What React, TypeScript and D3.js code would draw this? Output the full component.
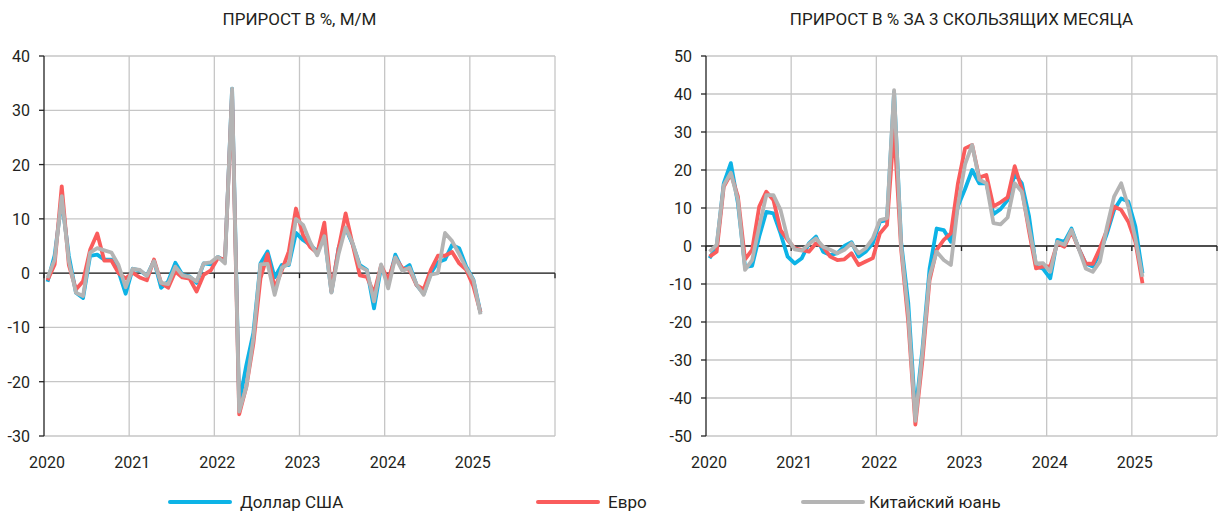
import React from "react";
import * as d3 from "d3";

const YEARS = ["2020", "2021", "2022", "2023", "2024", "2025"];
const SERIES_NAMES = ["Доллар США", "Евро", "Китайский юань"];
const COLORS = ["#0DB3E6", "#FA5C5C", "#B4B4B4"];

const TITLE_LEFT = "ПРИРОСТ В %, М/М";
const TITLE_RIGHT = "ПРИРОСТ В % ЗА 3 СКОЛЬЗЯЩИХ МЕСЯЦА";

// Monthly, Jan 2020 .. Feb 2025
const usdMoM = [-1.6, 3.3, 13.5, 3.2, -3.6, -4.6, 3.2, 3.4, 2.5, 2.5, 0.3, -3.8,
  0.8, 0.5, -0.5, 2.3, -2.7, -1.5, 1.9, -0.3, -0.6, -1.8, 1.8, 1.6,
  3.0, 2.2, 34.0, -24.0, -17.0, -11.0, 1.8, 4.0, -0.8, 1.5, 1.5, 7.4,
  6.1, 5.2, 4.0, 7.1, -3.5, 4.6, 8.3, 5.3, 1.5, 0.6, -6.5, 1.2,
  -1.9, 3.4, 0.6, 1.5, -2.2, -3.8, 0.0, 2.0, 2.5, 5.2, 4.6, 1.2, -1.2, -7.3];
const eurMoM = [-1.3, 1.6, 16.0, 1.5, -3.0, -1.5, 4.3, 7.3, 2.3, 2.3, 0.0, -1.0,
  0.1, -0.8, -1.3, 2.5, -1.8, -2.7, 0.3, -0.8, -1.0, -3.4, -0.3, 0.5,
  2.8, 2.5, 33.0, -26.0, -21.0, -13.0, -1.0, 3.5, -2.8, 0.5, 4.0, 11.9,
  7.0, 4.8, 3.7, 9.3, -3.3, 4.5, 11.0, 5.2, -0.4, -0.7, -3.7, 1.4,
  -1.2, 2.8, 0.9, 0.6, -2.2, -3.0, 0.6, 3.2, 3.2, 3.9, 1.8, 0.6, -2.4, -7.2];
const cnyMoM = [-0.9, 2.5, 14.2, 2.2, -3.6, -4.2, 3.8, 4.6, 4.2, 3.8, 1.5, -2.6,
  0.8, 0.6, -0.5, 2.2, -1.8, -2.0, 1.2, -0.4, -0.7, -1.5, 1.8, 2.0,
  3.0, 1.8, 34.0, -25.5, -21.0, -12.0, 1.6, 1.7, -4.0, 1.0, 1.7, 10.0,
  8.9, 5.7, 3.3, 6.8, -3.6, 3.5, 8.4, 5.5, 1.2, 0.5, -5.2, 1.6,
  -2.8, 2.9, 0.4, 1.0, -2.1, -4.0, -0.3, 0.0, 7.4, 5.9, 3.5, 0.9, -1.3, -7.6];

const usd3M = [-3.2, -0.2, 16.5, 21.8, 11.2, -5.5, -5.2, 2.5, 9.0, 8.6, 3.3, -2.8,
  -4.6, -3.2, 0.7, 2.5, -1.5, -2.4, -1.9, 0.0, 1.0, -2.8, -1.5, 0.7,
  6.4, 6.8, 40.5, 1.0, -15.0, -44.0, -27.0, -6.0, 4.6, 4.2, 1.1, 10.5,
  15.0, 20.0, 16.5, 16.5, 8.4, 9.7, 12.1, 19.0, 16.5, 8.0, -5.4, -6.0,
  -8.5, 1.6, 1.1, 4.6, -0.6, -4.6, -5.4, -1.9, 3.3, 9.5, 12.5, 11.7, 5.1, -7.2];
const eur3M = [-2.8, -1.5, 15.6, 19.0, 13.0, -3.5, -1.0, 10.4, 14.3, 12.1, 4.2, 1.6,
  -0.6, -1.0, -1.5, 0.7, -0.2, -2.8, -3.7, -3.5, -1.9, -5.0, -4.1, -3.2,
  3.3, 5.5, 31.0, -1.0, -20.0, -47.0, -30.0, -9.0, -1.0, 1.6, 3.3, 16.5,
  25.7, 26.6, 18.0, 18.7, 10.4, 11.5, 12.8, 21.0, 15.0, 4.0, -5.9, -5.4,
  -5.4, 0.7, -0.2, 3.8, -0.6, -4.6, -4.7, -0.6, 4.2, 10.4, 9.5, 6.4, 1.1, -9.8];
const cny3M = [-1.5, 0.3, 16.0, 19.3, 12.1, -6.3, -3.7, 5.1, 13.4, 13.4, 9.5, 2.0,
  -0.9, -1.2, 0.5, 2.0, -0.2, -1.0, -1.9, -1.0, 0.7, -1.9, -0.6, 2.0,
  6.8, 7.3, 41.0, 0.0, -18.0, -46.0, -28.0, -8.0, -1.5, -3.7, -5.0, 10.8,
  21.5, 26.6, 17.5, 16.5, 6.0, 5.7, 7.5, 16.5, 14.3, 5.0, -4.6, -4.5,
  -6.8, 1.1, 0.3, 4.2, -0.6, -5.9, -6.8, -4.1, 5.1, 13.0, 16.5, 10.4, 2.0, -8.1];

const LEFT_TICKS = [-30, -20, -10, 0, 10, 20, 30, 40];
const RIGHT_TICKS = [-50, -40, -30, -20, -10, 0, 10, 20, 30, 40, 50];

const FONT = "Roboto, 'Open Sans', sans-serif";
const TEXT_COLOR = "#231F20";
const GRID = "#C6C6C6";

type PanelProps = {
  x0: number;
  x1: number;
  y0: number;
  y1: number;
  domain: [number, number];
  ticks: number[];
  series: number[][];
  title: string;
};

function Panel({ x0, x1, y0, y1, domain, ticks, series, title }: PanelProps) {
  // x axis spans Jan 2020 .. Jan 2026 (72 months); points sit mid-month
  const months = YEARS.length * 12;
  const x = d3.scaleLinear().domain([0, months]).range([x0, x1]);
  const y = d3.scaleLinear().domain(domain).range([y1, y0]);
  const line = d3
    .line<number>()
    .x((_, i) => x(i + 0.5))
    .y((d) => y(d));
  const yearBounds = d3.range(0, months + 1, 12);
  return (
    <g>
      <text
        x={(x0 + x1) / 2}
        y={25}
        textAnchor="middle"
        fontFamily={FONT}
        fontSize={17}
        fill={TEXT_COLOR}
      >
        {title}
      </text>
      {ticks.map((t) => (
        <line key={"h" + t} x1={x0} x2={x1} y1={y(t)} y2={y(t)} stroke={GRID} strokeWidth={1.3} />
      ))}
      {yearBounds.slice(1).map((m) => (
        <line key={"v" + m} x1={x(m)} x2={x(m)} y1={y0} y2={y1} stroke={GRID} strokeWidth={1.3} />
      ))}
      <line x1={x0} x2={x1} y1={y(0)} y2={y(0)} stroke="#222" strokeWidth={1.3} />
      {yearBounds.map((m) => (
        <line key={"xt" + m} x1={x(m)} x2={x(m)} y1={y(0)} y2={y(0) + 5} stroke="#222" strokeWidth={1.3} />
      ))}
      <line x1={x0} x2={x0} y1={y0} y2={y1} stroke="#222" strokeWidth={1.3} />
      {ticks.map((t) => (
        <line key={"yt" + t} x1={x0 - 5} x2={x0} y1={y(t)} y2={y(t)} stroke="#222" strokeWidth={1.3} />
      ))}
      {ticks.map((t) => (
        <text
          key={"yl" + t}
          x={x0 - 14}
          y={y(t) + 6}
          textAnchor="end"
          fontFamily={FONT}
          fontSize={16}
          fill={TEXT_COLOR}
        >
          {t}
        </text>
      ))}
      {YEARS.map((yr, k) => (
        <text
          key={"xl" + yr}
          x={x(k * 12) + 3}
          y={y1 + 32}
          textAnchor="middle"
          fontFamily={FONT}
          fontSize={16}
          fill={TEXT_COLOR}
        >
          {yr}
        </text>
      ))}
      {series.map((s, k) => (
        <path
          key={"s" + k}
          d={line(s) || ""}
          fill="none"
          stroke={COLORS[k]}
          strokeWidth={3.8}
          strokeLinejoin="round"
          strokeLinecap="butt"
        />
      ))}
    </g>
  );
}

export default function App() {
  const legendX = [170, 538, 803];
  return (
    <svg
      width={1219}
      height={515}
      style={{ position: "absolute", left: 0, top: 0, background: "#fff" }}
    >
      <Panel
        x0={44}
        x1={555}
        y0={56}
        y1={436}
        domain={[-30, 40]}
        ticks={LEFT_TICKS}
        series={[usdMoM, eurMoM, cnyMoM]}
        title={TITLE_LEFT}
      />
      <Panel
        x0={706}
        x1={1217}
        y0={56}
        y1={436}
        domain={[-50, 50]}
        ticks={RIGHT_TICKS}
        series={[usd3M, eur3M, cny3M]}
        title={TITLE_RIGHT}
      />
      {SERIES_NAMES.map((name, k) => (
        <g key={name}>
          <line
            x1={legendX[k]}
            x2={legendX[k] + 60}
            y1={502}
            y2={502}
            stroke={COLORS[k]}
            strokeWidth={4}
            strokeLinecap="round"
          />
          <text
            x={legendX[k] + (k === 2 ? 66 : 70)}
            y={508}
            fontFamily={FONT}
            fontSize={17}
            fill={TEXT_COLOR}
          >
            {name}
          </text>
        </g>
      ))}
    </svg>
  );
}
